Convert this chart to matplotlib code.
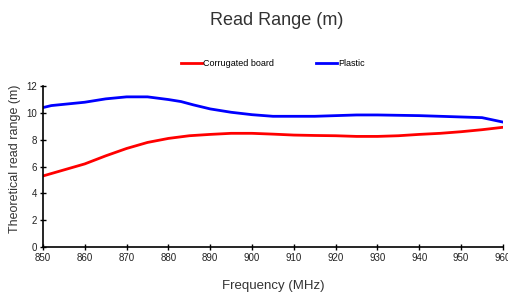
import matplotlib
matplotlib.use('Agg')
import matplotlib.pyplot as plt
from matplotlib import font_manager

# pick a narrow font if available
names = set(f.name for f in font_manager.fontManager.ttflist)
narrow = 'Liberation Sans Narrow' if 'Liberation Sans Narrow' in names else 'Liberation Sans'
plt.rcParams['font.family'] = [narrow, 'DejaVu Sans']

freq_board = [850, 855, 860, 865, 870, 875, 880, 885, 890, 895, 900, 905, 910, 915,
              920, 925, 930, 935, 940, 945, 950, 955, 960]
board = [5.3, 5.75, 6.2, 6.8, 7.35, 7.8, 8.1, 8.3, 8.4, 8.48, 8.48, 8.42, 8.35, 8.32,
         8.3, 8.25, 8.25, 8.3, 8.4, 8.48, 8.6, 8.75, 8.93]

freq_plastic = [850, 852, 860, 865, 870, 875, 880, 883, 886, 890, 895, 900, 905, 910,
                915, 920, 925, 930, 940, 950, 955, 960]
plastic = [10.4, 10.55, 10.8, 11.05, 11.2, 11.2, 11.0, 10.85, 10.6, 10.3, 10.05, 9.87,
           9.75, 9.75, 9.75, 9.8, 9.85, 9.85, 9.8, 9.7, 9.65, 9.32]

fig = plt.figure(figsize=(5.08, 2.96), dpi=100)
ax = fig.add_axes([0.0846, 0.1655, 0.9054, 0.5435])

ax.plot(freq_board, board, color='#ff0000', lw=2, label='Corrugated board')
ax.plot(freq_plastic, plastic, color='#0000ff', lw=2, label='Plastic')

ax.set_xlim(850, 960)
ax.set_ylim(0, 12)
ax.set_xticks(range(850, 961, 10))
ax.set_yticks(range(0, 13, 2))
ax.tick_params(direction='inout', length=5, width=1, labelsize=7, pad=2,
               labelcolor='#222222')
for s in ['top', 'right']:
    ax.spines[s].set_visible(False)
for s in ['left', 'bottom']:
    ax.spines[s].set_linewidth(1.2)

ax.set_xlabel('Frequency (MHz)', fontsize=9.5, color='#333333', labelpad=12)
ax.set_ylabel('Theoretical read range (m)', fontsize=9, color='#333333')
ax.yaxis.set_label_coords(-0.048, 0.55)

fig.text(0.545, 0.915, 'Read Range (m)', fontsize=13, color='#333333', ha='center')

ax.legend(loc='lower center', bbox_to_anchor=(0.5, 1.06), ncol=2, frameon=False,
          fontsize=6.5, handlelength=2.3, handletextpad=0.2, columnspacing=4.6)

fig.savefig('out.png', dpi=100)
